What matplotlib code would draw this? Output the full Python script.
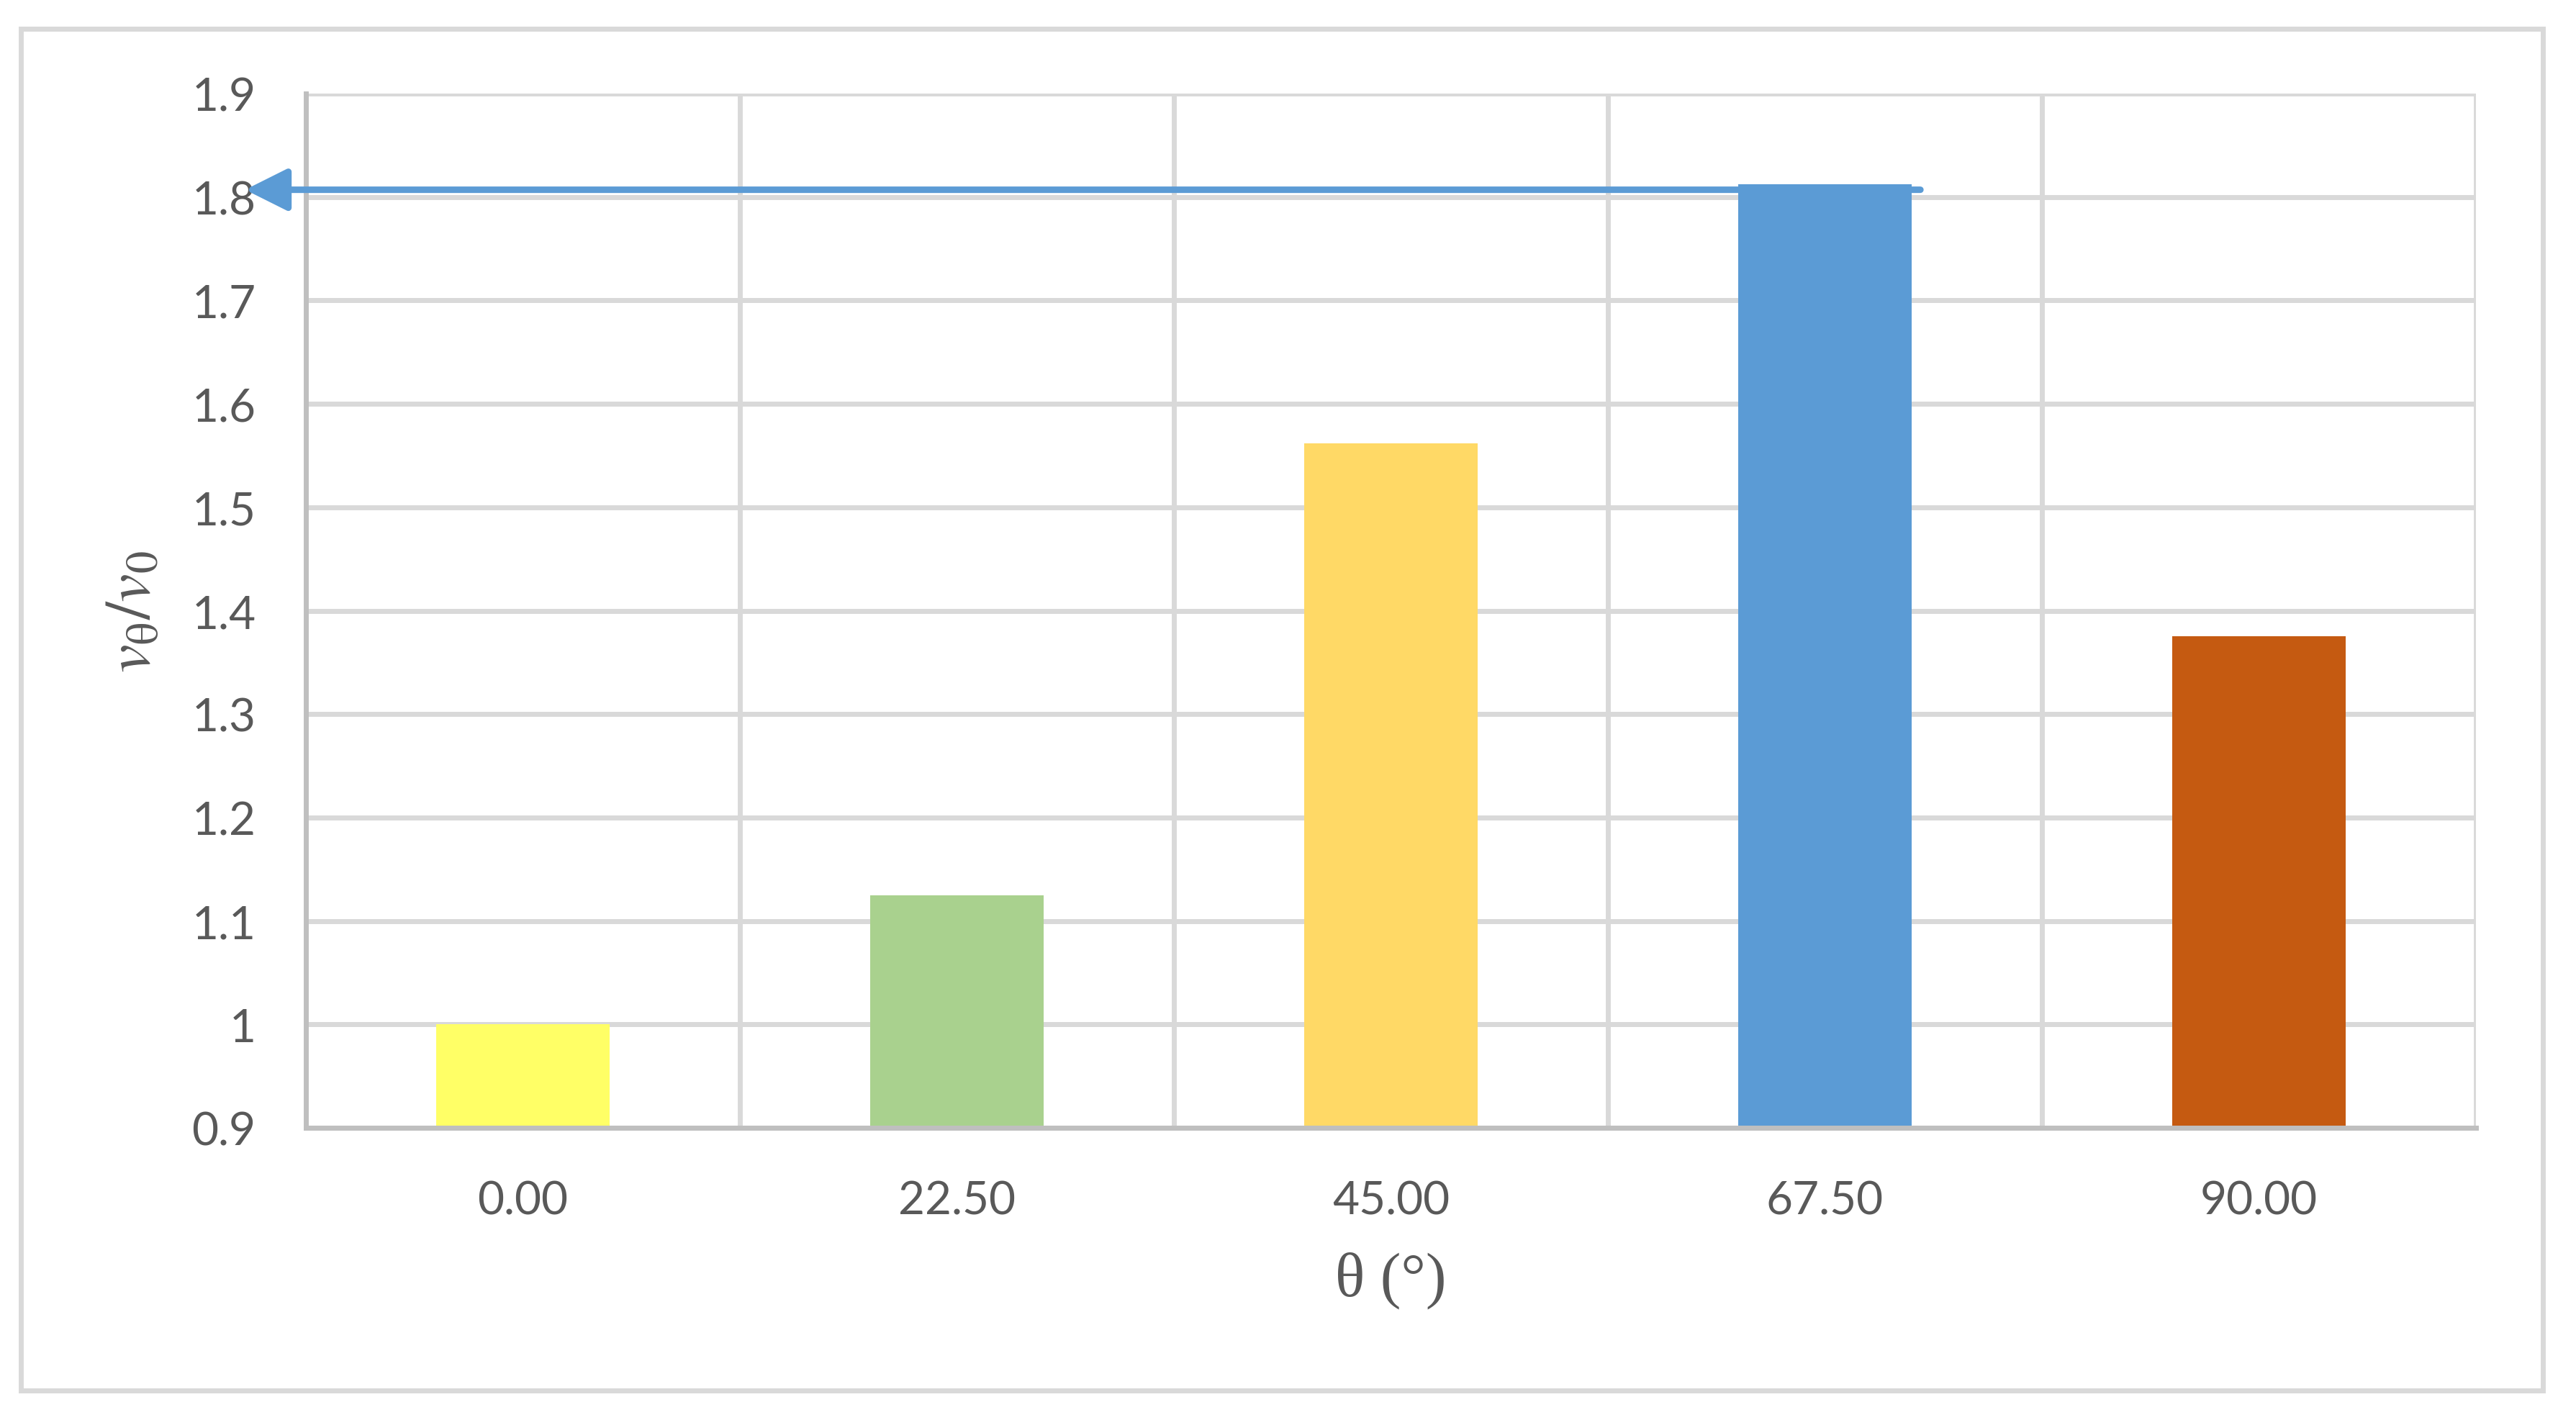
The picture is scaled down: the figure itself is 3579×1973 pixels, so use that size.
import matplotlib
matplotlib.use("Agg")
from matplotlib import pyplot as plt
from matplotlib.patches import Rectangle

angles = ["0.00", "22.50", "45.00", "67.50", "90.00"]
ratios = [1.0, 1.125, 1.562, 1.812, 1.375]
colors = ["#FFFF66", "#A9D18E", "#FFD966", "#5B9BD5", "#C55A11"]
yticks = [0.9, 1, 1.1, 1.2, 1.3, 1.4, 1.5, 1.6, 1.7, 1.8, 1.9]
yticklabels = ["0.9", "1", "1.1", "1.2", "1.3", "1.4", "1.5", "1.6", "1.7", "1.8", "1.9"]
arrow_level = 1.807

plt.rcParams["mathtext.fontset"] = "stix"
text_col = "#595959"

fig = plt.figure(figsize=(35.8, 19.74), dpi=100)
ax = fig.add_axes([425 / 3580, 1 - 1568 / 1974, 3015 / 3580, 1437 / 1974])

x = list(range(len(angles)))
ax.bar(x, [r - 0.9 for r in ratios], bottom=0.9, width=0.4, color=colors, zorder=3)

ax.set_xlim(-0.5, len(angles) - 0.5)
ax.set_ylim(0.9, 1.9)
ax.set_yticks(yticks)
ax.set_yticklabels(yticklabels)
ax.set_xticks(x)
ax.set_xticklabels(angles)
ax.tick_params(axis="both", length=0, labelsize=46, labelcolor=text_col, pad=50)
ax.tick_params(axis="x", pad=52)
for lab in ax.get_xticklabels() + ax.get_yticklabels():
    lab.set_family("Lato")

# grid: horizontal at ticks, vertical at category boundaries
for y in yticks[1:]:
    ax.axhline(y, color="#D9D9D9", lw=5, zorder=1)
for b in [i + 0.5 for i in x]:
    ax.axvline(b, color="#D9D9D9", lw=5, zorder=1)

for s in ["top", "right"]:
    ax.spines[s].set_visible(False)
for s in ["left", "bottom"]:
    ax.spines[s].set_color("#BFBFBF")
    ax.spines[s].set_linewidth(5)
    ax.spines[s].set_zorder(4)

ax.annotate("", xy=(-0.64, arrow_level), xytext=(3.22, arrow_level),
            xycoords="data", textcoords="data", annotation_clip=False,
            arrowprops=dict(arrowstyle="-|>,head_length=3.6,head_width=1.8",
                            color="#5B9BD5", lw=6.5, shrinkA=0, shrinkB=0),
            zorder=5)

ax.set_ylabel(r"$v_{\mathrm{\theta}}/v_{0}$", fontsize=64, color=text_col, labelpad=28)
ax.set_xlabel("θ (°)", fontsize=62, color=text_col, family="Liberation Serif", labelpad=30)

# outer chart frame
fig.patches.append(Rectangle((29 / 3580, 1 - 1933 / 1974), 3504 / 3580, 1892 / 1974,
                             transform=fig.transFigure, fill=False,
                             edgecolor="#D9D9D9", lw=5))

plt.savefig("out.png", dpi=100)
